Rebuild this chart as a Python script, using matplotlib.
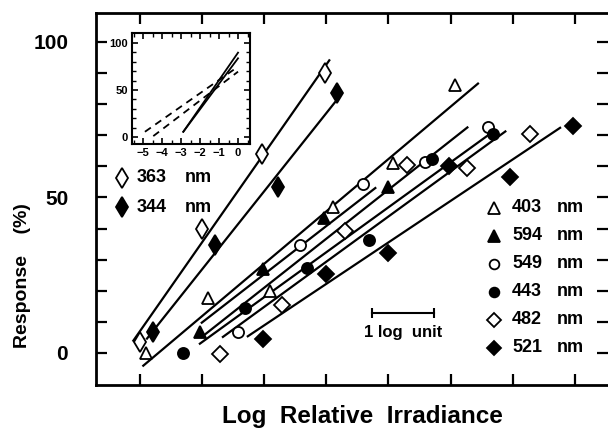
import numpy as np
import matplotlib.pyplot as plt
from matplotlib.lines import Line2D

plt.rcParams['font.family'] = ['Liberation Sans', 'DejaVu Sans']
plt.rcParams['font.weight'] = 'bold'

W, H = 608, 430

# values: x in log units (first bottom tick = 0), y in %
x363 = [0.0, 1.0, 1.97, 2.98]
y363 = [3.5, 40, 64, 90]
x344 = [0.22, 1.21, 2.23, 3.18]
y344 = [6.75, 34.7, 53.4, 83.6]
x403 = [0.10, 1.10, 2.10, 3.11, 4.08, 5.07]
y403 = [0, 17.7, 20, 47, 61, 86]
x594 = [0.97, 1.98, 2.96, 4.0]
y594 = [6.75, 27, 43.5, 53.4]
x549 = [1.58, 2.58, 3.59, 4.59, 5.6]
y549 = [6.75, 34.7, 54.3, 61.4, 72.7]
x443 = [0.70, 1.70, 2.69, 3.69, 4.70, 5.68]
y443 = [0, 14.5, 27.3, 36.3, 62.4, 70.4]
x482 = [1.29, 2.29, 3.30, 4.30, 5.27, 6.28]
y482 = [-0.3, 15.4, 39.2, 60.5, 59.5, 70.4]
x521 = [1.99, 3.0, 3.99, 4.98, 5.96, 6.97]
y521 = [4.5, 25.4, 32.2, 60.1, 56.6, 73]

# x extent of each fitted regression line
span363 = [-0.1, 3.05]
span344 = [0.12, 3.14]
span403 = [0.06, 5.44]
span594 = [1.0, 3.79]
span549 = [1.0, 5.27]
span443 = [0.97, 5.68]
span482 = [1.34, 5.88]
span521 = [1.74, 6.76]

# inset: model curves
inset_solid_x = [[-2.88, 0], [-2.88, 0]]
inset_solid_y = [[5.6, 89.7], [5.6, 83.7]]
inset_dash_x = [[-4.9, 0], [-4.46, 0]]
inset_dash_y = [[5.6, 74.8], [1.0, 69.5]]

def fx(px):
    return px / W

def fy(py):
    return 1 - py / H

fig = plt.figure(figsize=(W/100, H/100), dpi=100)
ax = fig.add_axes([fx(96), fy(385), fx(608) - fx(96), fy(13) - fy(385)])

# name, x, y, fit span, marker, filled, size
series = [
    ('363', x363, y363, span363, 'd', False, 10),
    ('344', x344, y344, span344, 'd', True, 10),
    ('403', x403, y403, span403, '^', False, 9),
    ('594', x594, y594, span594, '^', True, 9),
    ('549', x549, y549, span549, 'o', False, 8),
    ('443', x443, y443, span443, 'o', True, 8),
    ('482', x482, y482, span482, 'D', False, 8),
    ('521', x521, y521, span521, 'D', True, 8),
]

for name, xs, ys, span, m, filled, ms in series:
    k, b = np.polyfit(xs, ys, 1)
    xx = np.array(span)
    ax.plot(xx, k*xx + b, 'k', lw=1.6, zorder=2)
    ax.plot(xs, ys, ls='none', marker=m, ms=ms, mec='k', mew=1.3,
            mfc='k' if filled else 'white', zorder=3)

ax.set_xlim(-0.70, 7.53)
ax.set_ylim(-10.3, 109.3)
ax.set_xticks(range(8))
ax.set_xticklabels([])
ax.set_yticks(range(0, 101, 10))
ax.set_yticklabels([str(v) if v % 50 == 0 else '' for v in range(0, 101, 10)])
ax.tick_params(direction='in', length=8, width=1.6, top=True, right=True,
               labelsize=15, pad=20)
ax.spines['right'].set_visible(False)
for s in ['left', 'top', 'bottom']:
    ax.spines[s].set_linewidth(2)

# scale bar
ax.plot([3.74, 4.74], [12.9, 12.9], 'k', lw=1.5)
ax.plot([3.74, 4.74], [12.9, 12.9], ls='none', marker='|', ms=7, mew=1.5, color='k')
ax.text(4.24, 6.5, '1 log  unit', ha='center', va='center', fontsize=12)

# legends
def legend_row(px, py, m, filled, ms, label, nx, nmx):
    fig.add_artist(Line2D([fx(px)], [fy(py)], marker=m, ms=ms, mec='k', mew=1.3,
                          mfc='k' if filled else 'white', transform=fig.transFigure))
    fig.text(fx(nx), fy(py), label, ha='left', va='center', fontsize=13)
    fig.text(fx(nmx), fy(py), 'nm', ha='left', va='center', fontsize=13)

for i, (name, xs, ys, span, m, filled, ms) in enumerate(series[:2]):
    legend_row(122, 178 + 29*i, m, filled, ms, name, 137, 185)
for i, (name, xs, ys, span, m, filled, ms) in enumerate(series[2:]):
    legend_row(494, 208 + 28*i, m, filled, ms - 1, name, 512, 557)

fig.text(fx(23), fy(276), 'Response    (%)', rotation=90, ha='center', va='center', fontsize=14)
fig.text(fx(362), fy(416), 'Log  Relative  Irradiance', ha='center', va='center', fontsize=17.5)

# inset
axi = fig.add_axes([fx(132), fy(144), fx(250) - fx(132), fy(33) - fy(144)])
for xs, ys in zip(inset_solid_x, inset_solid_y):
    axi.plot(xs, ys, 'k', lw=1.3)
for xs, ys in zip(inset_dash_x, inset_dash_y):
    axi.plot(xs, ys, 'k', lw=1.3, dashes=(4, 3))
axi.set_xlim(-5.58, 0.63)
axi.set_ylim(-7.4, 110.6)
axi.set_xticks(range(-5, 1))
axi.set_xticks(np.arange(-5.5, 0.6, 0.5), minor=True)
axi.set_yticks([0, 50, 100])
axi.set_yticks(range(0, 101, 10), minor=True)
axi.tick_params(which='both', direction='in', top=True, right=True, labelsize=8, pad=3)
axi.tick_params(which='major', length=4, width=1.2)
axi.tick_params(which='minor', length=3, width=1)
for s in axi.spines.values():
    s.set_linewidth(1.5)

fig.savefig('out.png', dpi=100)
